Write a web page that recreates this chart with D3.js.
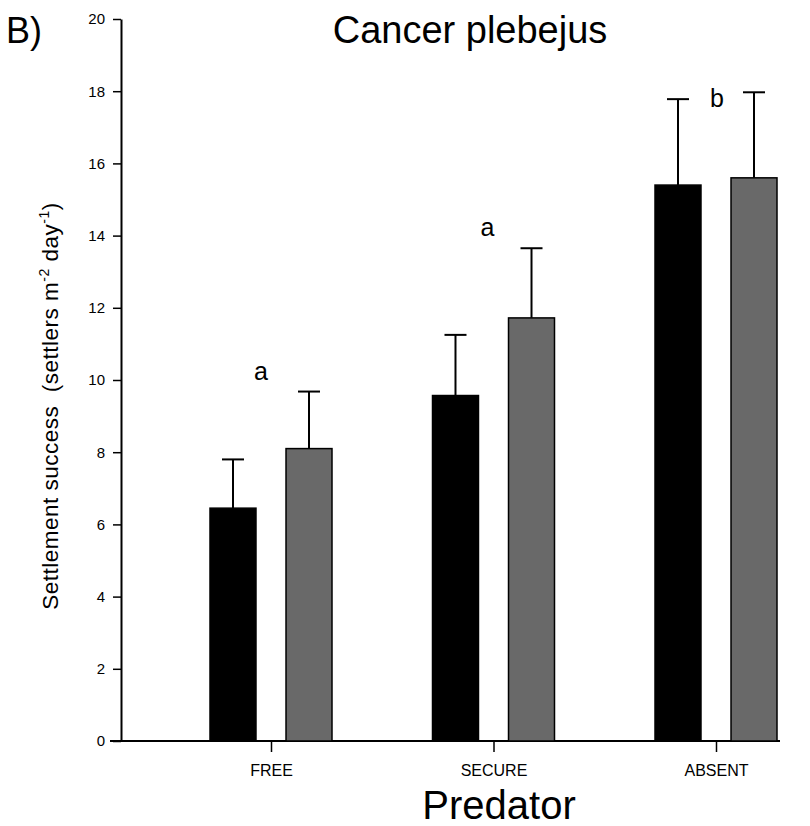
<!DOCTYPE html>
<html>
<head>
<meta charset="utf-8">
<script src="https://cdn.jsdelivr.net/npm/d3@7"></script>
<style>
  body { margin: 0; background: #fff; }
  svg text { font-family: "Liberation Sans", Arial, sans-serif; }
</style>
</head>
<body>
<svg id="chart"></svg>
<script>
// categories and series
const categories = ["FREE", "SECURE", "ABSENT"];
const series = ["A", "B"];
const means = {
  A: [6.45, 9.57, 15.4],
  B: [8.1, 11.72, 15.6]
};
const errTop = {
  A: [7.8, 11.25, 17.78],
  B: [9.68, 13.65, 17.97]
};
const letters = ["a", "a", "b"];
const letterY = [10.0, 14.0, 17.56];
const yTicks = [0, 2, 4, 6, 8, 10, 12, 14, 16, 18, 20];

const W = 810, H = 826;
const svg = d3.select("#chart").attr("width", W).attr("height", H);

// scales
const y = d3.scaleLinear().domain([0, 20]).range([741, 19]);
const x = d3.scalePoint().domain(categories).range([271, 716]);
const xSub = d3.scaleBand().domain(series).range([-61, 61]).paddingInner(0.395);
const color = { A: "#000000", B: "#696969" };

// y axis
const yAxis = svg.append("g")
  .attr("transform", "translate(121,0)")
  .call(d3.axisLeft(y).tickValues(yTicks).tickSize(8).tickSizeOuter(0));
yAxis.select(".domain").attr("stroke", "#000").attr("stroke-width", 2);
yAxis.selectAll(".tick line").attr("stroke-width", 1.5);
yAxis.selectAll("text").attr("font-size", 15).attr("fill", "#000").attr("x", -16);

// x baseline
svg.append("line")
  .attr("x1", 110).attr("x2", 780)
  .attr("y1", y(0)).attr("y2", y(0))
  .attr("stroke", "#000").attr("stroke-width", 2);

// category ticks + labels
const xAxis = svg.append("g")
  .attr("transform", `translate(0,${y(0)})`)
  .call(d3.axisBottom(x).tickSize(11).tickPadding(13).tickSizeOuter(0));
xAxis.select(".domain").remove();
xAxis.selectAll(".tick line").attr("stroke-width", 1.5);
xAxis.selectAll("text").attr("font-size", 16).attr("fill", "#000");

// bars
const rows = [];
categories.forEach((c, i) => {
  series.forEach(s => rows.push({ cat: c, s: s, v: means[s][i], e: errTop[s][i] }));
});

const bars = svg.append("g");

// error bars (upper only)
bars.selectAll(".err")
  .data(rows)
  .enter().append("line")
  .attr("x1", d => x(d.cat) + xSub(d.s) + xSub.bandwidth() / 2)
  .attr("x2", d => x(d.cat) + xSub(d.s) + xSub.bandwidth() / 2)
  .attr("y1", d => y(d.v))
  .attr("y2", d => y(d.e))
  .attr("stroke", "#000").attr("stroke-width", 2);

bars.selectAll(".cap")
  .data(rows)
  .enter().append("line")
  .attr("x1", d => x(d.cat) + xSub(d.s) + xSub.bandwidth() / 2 - 11)
  .attr("x2", d => x(d.cat) + xSub(d.s) + xSub.bandwidth() / 2 + 11)
  .attr("y1", d => y(d.e))
  .attr("y2", d => y(d.e))
  .attr("stroke", "#000").attr("stroke-width", 2);

bars.selectAll(".bar")
  .data(rows)
  .enter().append("rect")
  .attr("x", d => x(d.cat) + xSub(d.s))
  .attr("y", d => y(d.v))
  .attr("width", xSub.bandwidth())
  .attr("height", d => y(0) - y(d.v))
  .attr("fill", d => color[d.s])
  .attr("stroke", "#000").attr("stroke-width", 1.5);

// significance letters
svg.selectAll(".letter")
  .data(categories)
  .enter().append("text")
  .attr("x", (d, i) => x(d) + [-10, -6, 1][i])
  .attr("y", (d, i) => y(letterY[i]))
  .attr("text-anchor", "middle")
  .attr("font-size", 25)
  .text((d, i) => letters[i]);

// titles
svg.append("text")
  .attr("x", 470).attr("y", 43)
  .attr("text-anchor", "middle")
  .attr("font-size", 38)
  .text("Cancer plebejus");

svg.append("text")
  .attr("x", 6).attr("y", 43)
  .attr("font-size", 36)
  .text("B)");

svg.append("text")
  .attr("x", 499).attr("y", 819)
  .attr("text-anchor", "middle")
  .attr("font-size", 40)
  .text("Predator");

// y label with superscripts
const yl = svg.append("text")
  .attr("transform", "translate(58,406) rotate(-90)")
  .attr("text-anchor", "middle")
  .attr("font-size", 22.5)
  .attr("letter-spacing", 0.5);
yl.append("tspan").text("Settlement success\u00a0 (settlers m");
yl.append("tspan").attr("dy", -9).attr("font-size", 14).text("-2");
yl.append("tspan").attr("dy", 9).text(" day");
yl.append("tspan").attr("dy", -9).attr("font-size", 14).text("-1");
yl.append("tspan").attr("dy", 9).text(")");
</script>
</body>
</html>
